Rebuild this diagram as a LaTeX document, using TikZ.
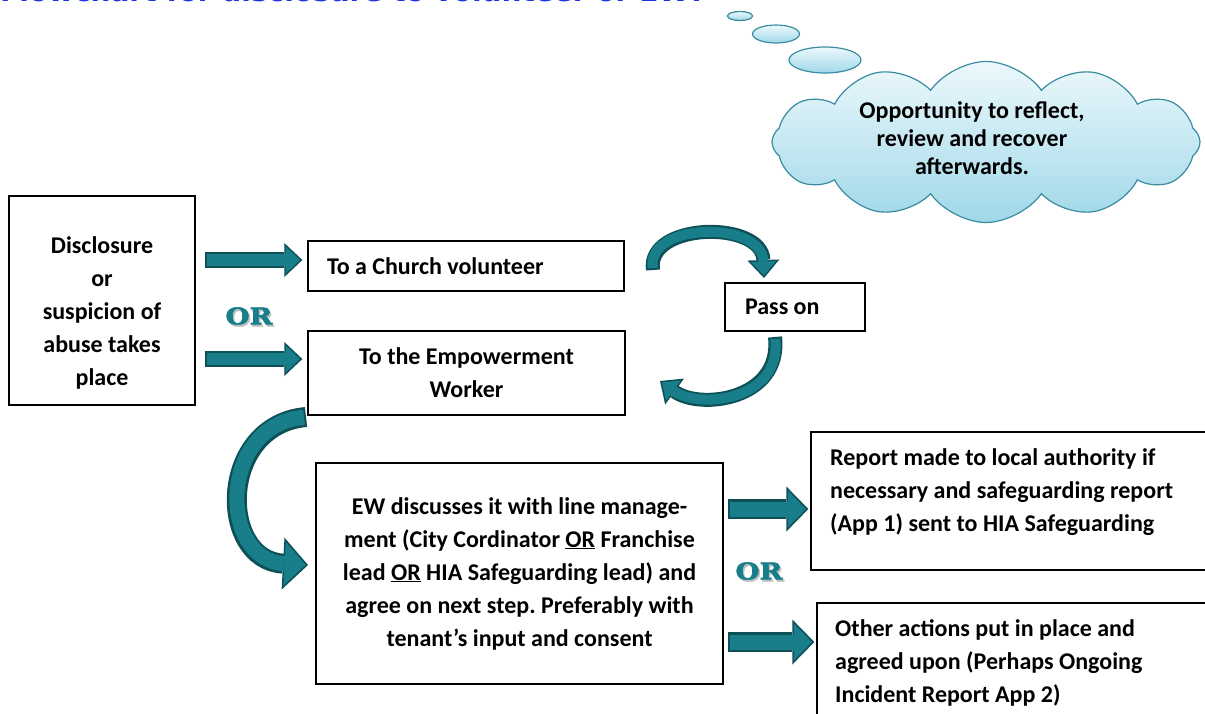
\documentclass[tikz,border=0pt]{standalone}
\usepackage{fontspec}
\setmainfont{Carlito}
\newfontfamily\orfont[BoldFeatures={FakeBold=2.5}]{DejaVu Serif}
\newfontfamily\titlefont{DejaVu Sans}
\usetikzlibrary{arrows.meta,shapes.symbols}
\frenchspacing

\definecolor{arrowteal}{RGB}{24,126,138}
\definecolor{arrowdark}{RGB}{14,80,88}
\definecolor{cloudtop}{RGB}{236,248,252}
\definecolor{cloudbot}{RGB}{160,216,232}
\definecolor{cloudline}{RGB}{58,140,160}
\definecolor{titleblue}{RGB}{30,50,230}

\tikzset{
  box/.style={draw, line width=1.3pt, inner sep=0pt, font=\bfseries\fontsize{24}{33}\selectfont},
  txt/.style={inner sep=0pt, align=flush left, font=\bfseries\fontsize{24}{33}\selectfont},
  fat/.style n args={3}{line width=#1, -{Triangle[length=#3, width=#2, line width=0pt]}},
  ortext/.style={text=arrowteal, font=\orfont\bfseries\fontsize{23}{23}\selectfont},
  orshadow/.style={ortext, text=black!25},
  bubble/.style={draw=cloudline, line width=1.2pt, top color=cloudtop, bottom color=cloudbot},
}

\begin{document}
\begin{tikzpicture}[x=1pt, y=-1pt]
\useasboundingbox (0,0) rectangle (1205,713);
\clip (0,0) rectangle (1205,713);

\node[anchor=base west, inner sep=0pt, text=titleblue, font=\titlefont\bfseries\fontsize{28}{28}\selectfont] (title) at (0,1.5) {Flowchart for disclosure to volunteer or EW?};

% boxes
\node[box, minimum width=186pt, minimum height=209pt] (disc) at (102,300.5) {};
\node[txt, align=center] (disctext) at ([yshift=-12pt]disc.center) {Disclosure\\or\\suspicion of\\abuse takes\\place};
\node[box, minimum width=316pt, minimum height=50pt, text width=278pt, align=flush left] (church) at (466,266) {To a Church volunteer};
\node[box, minimum width=317pt, minimum height=84pt, align=center] (empower) at (466.5,373) {To the Empowerment\\Worker};
\node[box, minimum width=140pt, minimum height=48pt, text width=100pt, align=flush left] (pass) at (795,307) {Pass on};
\node[box, minimum width=407pt, minimum height=221pt, align=center] (discuss) at (519.5,573.5) {EW discusses it with line manage-\\ment (City Cordinator \underline{OR} Franchise\\lead \underline{OR} HIA Safeguarding lead) and\\agree on next step. Preferably with\\tenant’s input and consent};
\node[box, minimum width=420pt, minimum height=138pt] (report) at (1021,501) {};
\node[txt, anchor=north west] (reporttext) at (830,448) {Report made to local authority if\\necessary and safeguarding report\\(App 1) sent to HIA Safeguarding};
\node[box, minimum width=410pt, minimum height=140pt] (other) at (1022,673) {};
\node[txt, anchor=north west] (othertext) at (835,619) {Other actions put in place and\\agreed upon (Perhaps Ongoing\\Incident Report App 2)};

% thought cloud
\draw[bubble] (740,16) ellipse (12.5 and 4.5);
\draw[bubble] (776,34) ellipse (23.5 and 9);
\draw[bubble] (825,60) ellipse (36 and 13);
\node[bubble, cloud, cloud puffs=12, cloud puff arc=110, aspect=2.6, minimum width=428pt, minimum height=161pt, inner sep=0pt] (thought) at (986,142) {};
\node[txt, align=center, font=\bfseries\fontsize{24}{28}\selectfont] (thoughttext) at (972,138) {Opportunity to reflect,\\review and recover\\afterwards.};

% OR labels
\node[orshadow] at (250.5,318) {\scalebox{1.2}[1]{OR}};
\node[ortext] (or1) at (249,316) {\scalebox{1.2}[1]{OR}};
\node[orshadow] at (760.5,573) {\scalebox{1.2}[1]{OR}};
\node[ortext] (or2) at (759,571) {\scalebox{1.2}[1]{OR}};

% straight block arrows
\coordinate (row1) at (0,260);
\coordinate (row2) at (0,359);
\coordinate (row3) at (0,509);
\coordinate (row4) at (0,642);
\draw[fat={16pt}{34pt}{18pt}, arrowdark, shorten <=9pt, shorten >=5pt] (disc.east |- row1) -- (church.west |- row1);
\draw[fat={12pt}{27pt}{14pt}, arrowteal, shorten <=11pt, shorten >=7.5pt] (disc.east |- row1) -- (church.west |- row1);
\draw[fat={16pt}{34pt}{18pt}, arrowdark, shorten <=9pt, shorten >=5pt] (disc.east |- row2) -- (empower.west |- row2);
\draw[fat={12pt}{27pt}{14pt}, arrowteal, shorten <=11pt, shorten >=7.5pt] (disc.east |- row2) -- (empower.west |- row2);
\draw[fat={20pt}{45pt}{22pt}, arrowdark, shorten <=4pt, shorten >=2pt] (discuss.east |- row3) -- (report.west |- row3);
\draw[fat={15pt}{37pt}{18pt}, arrowteal, shorten <=6pt, shorten >=4.5pt] (discuss.east |- row3) -- (report.west |- row3);
\draw[fat={20pt}{45pt}{22pt}, arrowdark, shorten <=4pt, shorten >=2pt] (discuss.east |- row4) -- (other.west |- row4);
\draw[fat={15pt}{37pt}{18pt}, arrowteal, shorten <=6pt, shorten >=4.5pt] (discuss.east |- row4) -- (other.west |- row4);

% curved block arrows
\coordinate (up1) at (653,270);
\coordinate (up2) at (764,278);
\coordinate (down1) at (775,337);
\coordinate (down2) at (660,381);
\coordinate (big1) at (306,417);
\coordinate (big2) at (308,565);
\draw[fat={14pt}{32pt}{18pt}, arrowdark] (up1) .. controls (646,222) and (762,220) .. (up2);
\draw[fat={10pt}{25pt}{14pt}, arrowteal, shorten <=2pt, shorten >=2.5pt] (up1) .. controls (646,222) and (762,220) .. (up2);
\draw[fat={14pt}{32pt}{18pt}, arrowdark] (down1) .. controls (782,400) and (700,410) .. (down2);
\draw[fat={10pt}{25pt}{14pt}, arrowteal, shorten <=2pt, shorten >=2.5pt] (down1) .. controls (782,400) and (700,410) .. (down2);
\draw[fat={20pt}{52pt}{25pt}, arrowdark] (big1) .. controls (218,425) and (218,560) .. (big2);
\draw[fat={15pt}{44pt}{21pt}, arrowteal, shorten <=2pt, shorten >=2.5pt] (big1) .. controls (218,425) and (218,560) .. (big2);
\end{tikzpicture}
\end{document}
